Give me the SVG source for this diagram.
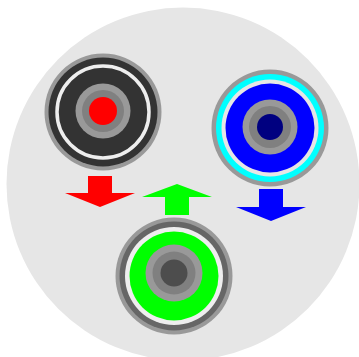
<svg xmlns="http://www.w3.org/2000/svg" width="359" height="357" viewBox="0 0 359 357">
  <style>
    .g1{fill:#999999}
    .g2{fill:#808080}
    .ring{fill:none;stroke:#eeeeee;stroke-width:3.5}
  </style>
  <rect width="359" height="357" fill="#ffffff"/>
  <circle id="background" cx="183" cy="184" r="176.5" fill="#e6e6e6"/>
  <g id="node-red">
    <circle class="g1" cx="103" cy="112" r="58.5"/>
    <circle cx="103" cy="112" r="54.5" fill="#333333"/>
    <circle class="ring" cx="103" cy="112" r="46"/>
    <circle class="g1" cx="103" cy="111" r="27.5"/>
    <circle class="g2" cx="103" cy="111" r="21"/>
    <circle cx="103" cy="111" r="14" fill="#ff0000"/>
  </g>
  <g id="node-blue">
    <circle class="g1" cx="270" cy="128" r="58.5"/>
    <circle cx="270" cy="128" r="54" fill="#00ffff"/>
    <circle cx="270" cy="128" r="48.5" fill="#e6e6e6"/>
    <circle cx="270" cy="128" r="44.5" fill="#0000ff"/>
    <circle class="g1" cx="270" cy="127" r="27.5"/>
    <circle class="g2" cx="270" cy="127" r="21"/>
    <circle cx="270" cy="127" r="13" fill="#000080"/>
  </g>
  <g id="node-green">
    <circle class="g1" cx="174" cy="276" r="58.5"/>
    <circle cx="174" cy="276" r="54.5" fill="#666666"/>
    <circle cx="174" cy="276" r="49" fill="#eeeeee"/>
    <circle cx="174" cy="276" r="44.5" fill="#00ff00"/>
    <circle class="g1" cx="174" cy="273" r="28.5"/>
    <circle class="g2" cx="174" cy="273" r="21.5"/>
    <circle cx="174" cy="273" r="13.5" fill="#4d4d4d"/>
  </g>
  <g id="connectors">
    <polygon fill="#ff0000" points="88,176 112,176 112,193 135,193 100,207 65,193 88,193"/>
    <polygon fill="#0000ff" points="259,189 283,189 283,207 306,207 271,221 236,207 259,207"/>
    <polygon fill="#00ff00" points="165,215 189,215 189,197 212,197 177,184 142,197 165,197"/>
  </g>
</svg>
